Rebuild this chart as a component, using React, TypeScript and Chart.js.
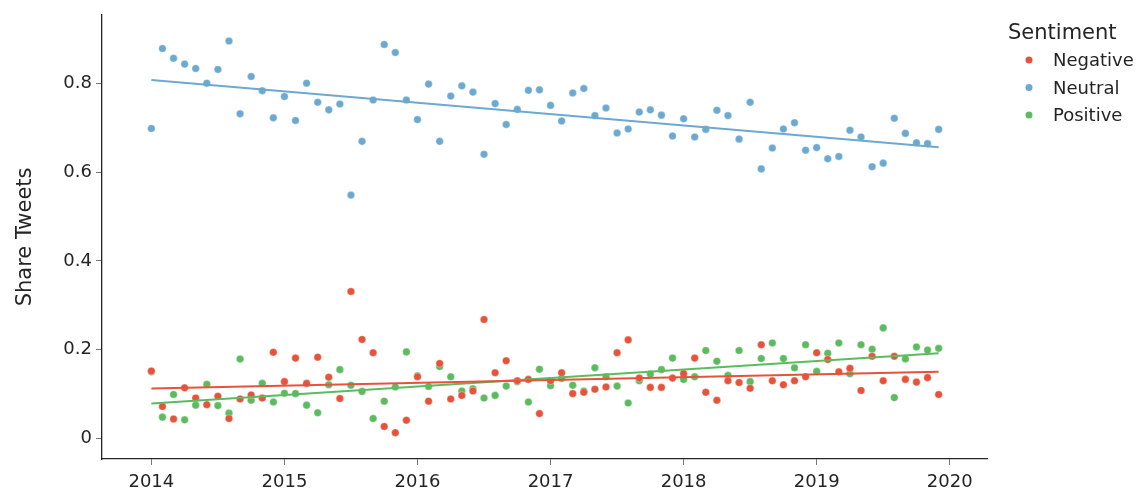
import { useEffect, useRef } from 'react';
import { Chart, registerables } from 'chart.js';

Chart.register(...registerables);

const months = [
  '2014-01','2014-02','2014-03','2014-04','2014-05','2014-06','2014-07','2014-08','2014-09','2014-10','2014-11','2014-12',
  '2015-01','2015-02','2015-03','2015-04','2015-05','2015-06','2015-07','2015-08','2015-09','2015-10','2015-11','2015-12',
  '2016-01','2016-02','2016-03','2016-04','2016-05','2016-06','2016-07','2016-08','2016-09','2016-10','2016-11','2016-12',
  '2017-01','2017-02','2017-03','2017-04','2017-05','2017-06','2017-07','2017-08','2017-09','2017-10','2017-11','2017-12',
  '2018-01','2018-02','2018-03','2018-04','2018-05','2018-06','2018-07','2018-08','2018-09','2018-10','2018-11','2018-12',
  '2019-01','2019-02','2019-03','2019-04','2019-05','2019-06','2019-07','2019-08','2019-09','2019-10','2019-11','2019-12',
];

const negative = [
  0.152, 0.072, 0.044, 0.114, 0.091, 0.076, 0.095, 0.045, 0.089, 0.098, 0.091, 0.194,
  0.128, 0.181, 0.124, 0.183, 0.138, 0.090, 0.331, 0.223, 0.193, 0.027, 0.013, 0.041,
  0.139, 0.084, 0.169, 0.089, 0.097, 0.107, 0.268, 0.148, 0.175, 0.130, 0.133, 0.056,
  0.130, 0.148, 0.101, 0.104, 0.111, 0.116, 0.193, 0.222, 0.136, 0.115, 0.115, 0.136,
  0.146, 0.181, 0.104, 0.086, 0.130, 0.126, 0.113, 0.211, 0.130, 0.121, 0.130, 0.139,
  0.193, 0.178, 0.150, 0.158, 0.108, 0.185, 0.130, 0.185, 0.133, 0.127, 0.137, 0.099,
];

const neutral = [
  0.698, 0.878, 0.856, 0.843, 0.833, 0.800, 0.831, 0.895, 0.731, 0.815, 0.783, 0.722,
  0.770, 0.716, 0.800, 0.757, 0.740, 0.753, 0.548, 0.669, 0.762, 0.887, 0.869, 0.762,
  0.718, 0.798, 0.669, 0.771, 0.794, 0.780, 0.640, 0.754, 0.707, 0.741, 0.784, 0.785,
  0.750, 0.715, 0.778, 0.788, 0.727, 0.744, 0.688, 0.697, 0.735, 0.740, 0.728, 0.681,
  0.720, 0.679, 0.696, 0.739, 0.727, 0.674, 0.757, 0.607, 0.654, 0.697, 0.711, 0.649,
  0.655, 0.630, 0.635, 0.694, 0.679, 0.612, 0.620, 0.721, 0.687, 0.666, 0.664, 0.696,
];

const positive = [
  0.150, 0.048, 0.099, 0.042, 0.075, 0.122, 0.074, 0.057, 0.179, 0.086, 0.124, 0.082,
  0.102, 0.101, 0.075, 0.058, 0.121, 0.155, 0.120, 0.106, 0.045, 0.084, 0.116, 0.195,
  0.141, 0.117, 0.162, 0.139, 0.107, 0.112, 0.091, 0.097, 0.118, 0.128, 0.082, 0.156,
  0.119, 0.135, 0.120, 0.107, 0.159, 0.139, 0.118, 0.080, 0.130, 0.145, 0.155, 0.181,
  0.133, 0.139, 0.198, 0.174, 0.142, 0.198, 0.128, 0.180, 0.215, 0.180, 0.159, 0.211,
  0.151, 0.192, 0.215, 0.146, 0.211, 0.201, 0.249, 0.092, 0.179, 0.206, 0.199, 0.203,
];

// Trend line values at the first and last month
const trendNegative = [0.1125, 0.150];
const trendNeutral = [0.807, 0.656];
const trendPositive = [0.079, 0.192];

const yTicks = [0, 0.2, 0.4, 0.6, 0.8];
const xTicks = [2014, 2015, 2016, 2017, 2018, 2019, 2020];

const seriesNames = ['Negative', 'Neutral', 'Positive'];
const seriesColors = ['#e5533b', '#6ba9d0', '#5dbb5f'];

const toYear = (m: string) => {
  const [y, mo] = m.split('-').map(Number);
  return y + (mo - 1) / 12;
};

const FONT = '"DejaVu Sans", sans-serif';

const legendPlugin = {
  id: 'sentimentLegend',
  afterDraw(chart: any) {
    const ctx = chart.ctx;
    ctx.save();
    ctx.textBaseline = 'alphabetic';
    ctx.textAlign = 'left';
    ctx.fillStyle = '#242424';
    ctx.font = `21px ${FONT}`;
    ctx.fillText('Sentiment', 1008, 39);
    ctx.font = `18px ${FONT}`;
    seriesNames.forEach((name, i) => {
      const base = 66 + i * 27.5;
      ctx.beginPath();
      ctx.fillStyle = seriesColors[i];
      ctx.arc(1029, base - 6, 3.5, 0, Math.PI * 2);
      ctx.fill();
      ctx.fillStyle = '#242424';
      ctx.fillText(name, 1053, base);
    });
    ctx.restore();
  },
};

export default function App() {
  const ref = useRef<HTMLCanvasElement>(null);

  useEffect(() => {
    if (!ref.current) return;
    const xs = months.map(toYear);
    const first = xs[0];
    const last = xs[xs.length - 1];
    const series = [negative, neutral, positive];
    const trends = [trendNegative, trendNeutral, trendPositive];

    const scatterSets = series.map((vals, i) => ({
      type: 'scatter' as const,
      label: seriesNames[i],
      data: vals.map((v, j) => ({ x: xs[j], y: v })),
      backgroundColor: seriesColors[i],
      borderColor: 'rgba(255,255,255,0.6)',
      borderWidth: 0.6,
      pointRadius: 3.8,
      order: 2,
    }));
    const lineSets = trends.map((t, i) => ({
      type: 'line' as const,
      label: seriesNames[i] + ' trend',
      data: [
        { x: first, y: t[0] },
        { x: last, y: t[1] },
      ],
      borderColor: seriesColors[i],
      borderWidth: 2,
      pointRadius: 0,
      fill: false,
      order: 1,
    }));

    const chart = new Chart(ref.current, {
      type: 'scatter',
      data: { datasets: [...scatterSets, ...lineSets] as any },
      options: {
        animation: false,
        responsive: false,
        layout: { padding: { left: 0, top: 11, right: 153, bottom: 0 } },
        plugins: {
          legend: { display: false },
          tooltip: { enabled: false },
        },
        scales: {
          x: {
            type: 'linear',
            min: 2013.629,
            max: 2020.28,
            afterBuildTicks: (s: any) => {
              s.ticks = xTicks.map((v) => ({ value: v }));
            },
            afterFit: (s: any) => {
              s.height = 35;
            },
            grid: {
              display: true,
              drawOnChartArea: false,
              drawTicks: true,
              tickLength: 6,
              color: '#777',
            },
            border: { display: true, color: '#242424', width: 1.3 },
            ticks: {
              color: '#242424',
              font: { family: FONT, size: 18 },
              padding: 7,
              maxRotation: 0,
              callback: (v: any) => String(v),
            },
          },
          y: {
            type: 'linear',
            min: -0.0462,
            max: 0.954,
            afterBuildTicks: (s: any) => {
              s.ticks = yTicks.map((v) => ({ value: v }));
            },
            afterFit: (s: any) => {
              s.width = 102;
            },
            grid: {
              display: true,
              drawOnChartArea: false,
              drawTicks: true,
              tickLength: 6,
              color: '#777',
            },
            border: { display: true, color: '#242424', width: 1.3 },
            ticks: {
              color: '#242424',
              font: { family: FONT, size: 18 },
              padding: 4,
              callback: (v: any) => String(Math.round(v * 10) / 10),
            },
            title: {
              display: true,
              text: 'Share Tweets',
              color: '#242424',
              font: { family: FONT, size: 21, weight: 'normal' },
              padding: { top: 13, bottom: 0 },
            },
          },
        },
      },
      plugins: [legendPlugin],
    } as any);

    return () => chart.destroy();
  }, []);

  return (
    <div style={{ position: 'fixed', left: 0, top: 0, width: 1140, height: 494, background: '#fff' }}>
      <canvas ref={ref} width={1140} height={494} style={{ display: 'block' }} />
    </div>
  );
}
